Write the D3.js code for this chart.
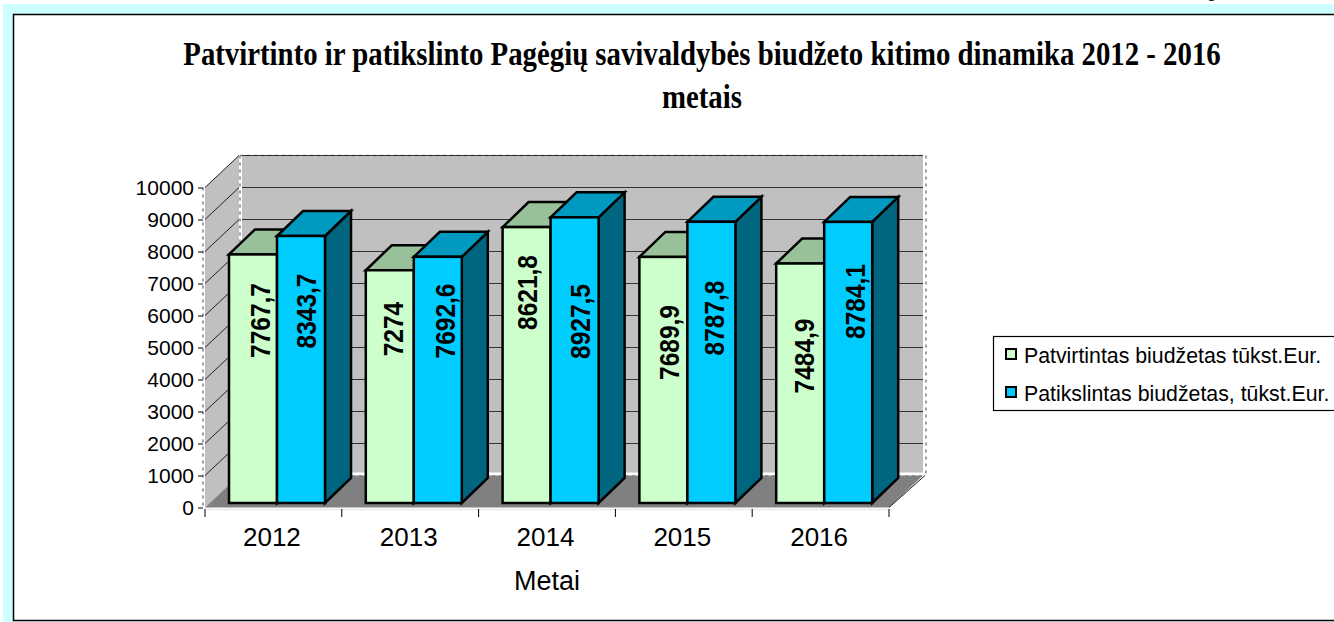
<!DOCTYPE html>
<html>
<head>
<meta charset="utf-8">
<script src="https://cdn.jsdelivr.net/npm/d3@7"></script>
<style>
  html, body { margin: 0; padding: 0; background: #fff; overflow: hidden; }
  svg { display: block; }
  text { fill: #000; font-family: "Liberation Sans", Arial, sans-serif; }
</style>
</head>
<body>
<div id="chart"></div>
<script>
const titleLines = ['Patvirtinto ir patikslinto Pagėgių savivaldybės biudžeto kitimo dinamika 2012 - 2016', 'metais'];
const years = ['2012', '2013', '2014', '2015', '2016'];
const seriesNames = ['Patvirtintas biudžetas tūkst.Eur.', 'Patikslintas biudžetas, tūkst.Eur.'];
const approved = [7767.7, 7274, 8621.8, 7689.9, 7484.9];
const revised = [8343.7, 7692.6, 8927.5, 8787.8, 8784.1];
const yTicks = [0, 1000, 2000, 3000, 4000, 5000, 6000, 7000, 8000, 9000, 10000];

const width = 1334, height = 622;
const wallDx = 34, wallDy = -32;
const barDx = 26, barDy = -25;
const barLift = -4.5;

const svg = d3.select('#chart').append('svg').attr('width', width).attr('height', height);

// page frame
svg.append('rect').attr('x', 3).attr('y', 4).attr('width', width).attr('height', height).attr('fill', '#ccffff');
svg.append('rect').attr('x', 13.5).attr('y', 14.5).attr('width', width).attr('height', 606)
  .attr('fill', '#fff').attr('stroke', '#000').attr('stroke-width', 1.5);
svg.append('text').attr('x', 1209).attr('y', -3).style('font-family', '"Liberation Serif"')
  .style('font-style', 'italic').style('font-size', '16px').text('g');

const x = d3.scaleBand().domain(years).range([205, 889]);
const inner = d3.scaleBand().domain(seriesNames).range([24, 120]);
const y = d3.scaleLinear().domain([0, 10000]).range([507.5, 187.5]);

const x0 = x.range()[0], x1 = x.range()[1];
const y0 = y(0), yTop = y(10000);

const poly = pts => pts.map(p => p.join(',')).join(' ');

// back wall
svg.append('rect').attr('x', x0 + wallDx + 3).attr('y', yTop + wallDy)
  .attr('width', x1 - x0 - 3).attr('height', y0 - yTop - 3).attr('fill', '#c0c0c0');
// side wall
svg.append('polygon')
  .attr('points', poly([[x0, yTop], [x0 + wallDx, yTop + wallDy], [x0 + wallDx, y0 + wallDy], [x0, y0]]))
  .attr('fill', '#c0c0c0');
// floor
svg.append('polygon')
  .attr('points', poly([[x0, y0], [x0 + wallDx, y0 + wallDy], [x1 + wallDx, y0 + wallDy], [x1, y0]]))
  .attr('fill', '#808080');

// dashed outline of the plot box
const dashed = (a, b) => {
  svg.append('line').attr('x1', a[0]).attr('y1', a[1]).attr('x2', b[0]).attr('y2', b[1])
    .attr('stroke', '#808080').attr('stroke-width', 1.5).attr('stroke-dasharray', '3,4');
};
dashed([x0 + wallDx + 1, yTop + wallDy], [x1 + wallDx + 3, yTop + wallDy]);
dashed([x0 + wallDx + 1, yTop + wallDy], [x0 + wallDx + 1, y0 + wallDy]);
dashed([x1 + wallDx + 3, yTop + wallDy], [x1 + wallDx + 3, y0 + wallDy]);
dashed([x0 + wallDx + 1, y0 + wallDy + 0.5], [x1 + wallDx + 3, y0 + wallDy + 0.5]);
dashed([x0 - 2, yTop], [x0 - 2, y0]);

// gridlines on back and side walls
yTicks.slice(1).forEach(t => {
  svg.append('line').attr('x1', x0 + wallDx + 3).attr('x2', x1 + wallDx)
    .attr('y1', y(t) + wallDy).attr('y2', y(t) + wallDy).attr('stroke', '#333').attr('stroke-width', 1.2);
  svg.append('line').attr('x1', x0).attr('x2', x0 + wallDx)
    .attr('y1', y(t)).attr('y2', y(t) + wallDy).attr('stroke', '#222').attr('stroke-width', 1);
});
svg.append('line').attr('x1', x1).attr('y1', y0).attr('x2', x1 + wallDx + 2).attr('y2', y0 + wallDy)
  .attr('stroke', '#222').attr('stroke-width', 1);

// axes
const yAxis = svg.append('g').attr('transform', `translate(${x0 - 2},0)`)
  .call(d3.axisLeft(y).tickValues(yTicks).tickSize(5).tickPadding(4).tickFormat(d3.format('d')));
const xAxis = svg.append('g').attr('transform', `translate(0,${y0 + 1.5})`)
  .call(d3.axisBottom(x).tickSize(0).tickPadding(18.5));
xAxis.selectAll('.tick text').style('font-size', '26px').attr('x', -1.5).attr('dy', '0.71em');
yAxis.selectAll('.tick text').style('font-size', '21px');
yAxis.selectAll('line,path').attr('stroke', '#000');
yAxis.select('.domain').remove();
xAxis.select('.domain').attr('stroke', '#e8e8e8').attr('stroke-width', 1.5);
xAxis.selectAll('.tick line').remove();
xAxis.selectAll('.boundary').data(years.concat('end')).enter().append('line')
  .attr('x1', (d, i) => x0 + i * x.step()).attr('x2', (d, i) => x0 + i * x.step())
  .attr('y1', 0).attr('y2', 8).attr('stroke', '#000');

// bars
const palette = [
  { face: '#ccffcc', top: '#99c199', side: '#99c199', values: approved },
  { face: '#00ccff', top: '#0099bf', side: '#006680', values: revised }
];

years.forEach((year, i) => {
  palette.forEach((s, k) => {
    const left = x(year) + inner(seriesNames[k]);
    const right = left + inner.bandwidth();
    const top = y(s.values[i]) + barLift;
    const bottom = y(0) + barLift;
    const g = svg.append('g').attr('stroke', '#000').attr('stroke-width', 2.5).attr('stroke-linejoin', 'miter');
    g.append('polygon').attr('fill', s.side)
      .attr('points', poly([[right, top], [right + barDx, top + barDy], [right + barDx, bottom + barDy], [right, bottom]]));
    g.append('polygon').attr('fill', s.top)
      .attr('points', poly([[left, top], [left + barDx, top + barDy], [right + barDx, top + barDy], [right, top]]));
    g.append('rect').attr('x', left).attr('y', top).attr('width', right - left).attr('height', bottom - top)
      .attr('fill', s.face);
  });
});

// the value labels were dragged by hand in the original: centre height in axis units, sideways nudge in px
const labelAt = [[5703, 5437, 6578, 5016, 4594], [6000, 5688, 5672, 5781, 6297]];
const labelNudge = [[7, 3, 0, 6, 3.5], [4.5, 7, 5, 3, 7]];
const fmt = v => String(v).replace('.', ',');

years.forEach((year, i) => {
  palette.forEach((s, k) => {
    const cx = x(year) + inner(seriesNames[k]) + inner.bandwidth() / 2 + labelNudge[k][i];
    const cy = y(labelAt[k][i]) + barLift;
    svg.append('text')
      .attr('transform', `translate(${cx},${cy}) rotate(-90) scale(1,1.14)`)
      .attr('text-anchor', 'middle').attr('dy', '0.36em')
      .style('font-size', '24.5px').style('font-weight', 'bold')
      .text(fmt(s.values[i]));
  });
});

// title
titleLines.forEach((line, i) => {
  svg.append('text').attr('transform', `translate(702,${65 + i * 42.5}) scale(1,1.16)`).attr('text-anchor', 'middle')
    .style('font-family', '"Liberation Serif", serif').style('font-weight', 'bold').style('font-size', '28.8px')
    .text(line);
});

// axis title
svg.append('text').attr('x', 547).attr('y', 590).attr('text-anchor', 'middle')
  .style('font-size', '27px').text('Metai');

// legend
svg.append('rect').attr('x', 993.5).attr('y', 336.5).attr('width', 400).attr('height', 74)
  .attr('fill', '#fff').attr('stroke', '#000').attr('stroke-width', 1.2);
seriesNames.forEach((name, k) => {
  svg.append('rect').attr('x', 1006).attr('y', 349 + k * 38).attr('width', 10).attr('height', 10)
    .attr('fill', palette[k].face).attr('stroke', '#000').attr('stroke-width', 2);
  svg.append('text').attr('x', 1024).attr('y', 362.5 + k * 38).style('font-size', '21.3px').text(name);
});
</script>
</body>
</html>
